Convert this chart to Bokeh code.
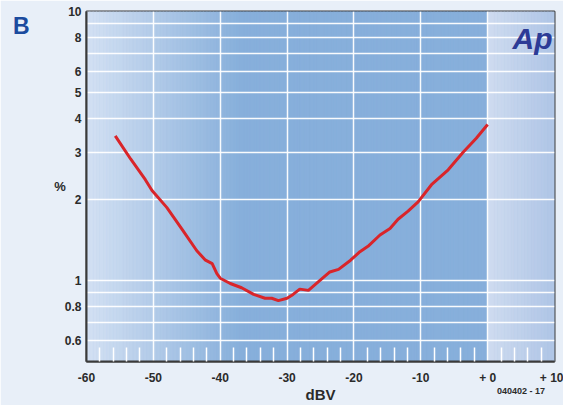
import numpy as np
from bokeh.plotting import figure
from bokeh.models import (Range1d, FixedTicker, Label, NumeralTickFormatter,
                          LinearAxis, LogAxis, CustomJSTickFormatter)
from bokeh.embed import file_html
from bokeh.resources import INLINE

# ---- data ----
db = [-55.7, -53.4, -51.2, -50.2, -48.0, -45.7, -43.5, -42.2, -41.2, -40.5, -40.0,
      -38.5, -36.8, -35.0, -33.3, -32.3, -31.3, -30.0, -29.1, -28.1, -26.8, -25.6,
      -23.6, -22.3, -20.5, -19.1, -17.9, -16.1, -14.6, -13.4, -11.9, -10.4, -8.4,
      -5.9, -3.7, -1.7, 0.0]
thd = [3.45, 2.83, 2.37, 2.16, 1.87, 1.55, 1.29, 1.19, 1.155, 1.06, 1.02,
       0.975, 0.94, 0.888, 0.859, 0.859, 0.842, 0.859, 0.888, 0.929, 0.919, 0.975,
       1.076, 1.10, 1.19, 1.28, 1.34, 1.476, 1.56, 1.69, 1.81, 1.96, 2.27,
       2.58, 2.99, 3.38, 3.8]

x_ticks = [-60, -50, -40, -30, -20, -10, 0, 10]
x_tick_labels = ["-60", "-50", "-40", "-30", "-20", "-10", "+ 0", "+ 10"]
x_grid = [-50, -40, -30, -20, -10, 0]
x_minor = [v for v in range(-58, 10, 2) if v % 10 != 0]
y_ticks = [0.6, 0.8, 1, 2, 3, 4, 5, 6, 8, 10]
y_grid = [0.6, 0.7, 0.8, 0.9, 1, 2, 3, 4, 5, 6, 7, 8, 9, 10]
panel_letter = "B"
figure_code = "040402 - 17"

BG = "#e8eff8"
TXT = "#2b2b2b"
FONT = "Liberation Sans"
W, H = 563, 405

p = figure(width=W, height=H, x_range=Range1d(-60, 10), y_range=Range1d(0.5, 10),
           y_axis_type="log", output_backend="svg", toolbar_location=None,
           min_border_left=86, min_border_right=9, min_border_top=11, min_border_bottom=42)
p.border_fill_color = BG
p.background_fill_color = "#87afdb"
p.outline_line_color = "#3a3a3a"
p.outline_line_width = 2

# ---- background gradient ----
def hx(c):
    return np.array([int(c[i:i + 2], 16) for i in (1, 3, 5)], dtype=float)

def mix(a, b, t):
    c = hx(a) * (1 - t) + hx(b) * t
    return "#%02x%02x%02x" % tuple(int(round(v)) for v in c)

step = 0.5
edges = np.arange(-60, 10, step)
cols = []
for l in edges:
    xm = l + step / 2
    if xm < -37:
        cols.append(mix("#d4e1f3", "#87afdb", (xm + 60) / 23.0))
    elif xm < 0:
        cols.append("#87afdb")
    else:
        cols.append(mix("#cfdcf0", "#afc5e6", xm / 10.0))
p.quad(left=edges, right=edges + step, bottom=0.5, top=10, fill_color=cols,
       line_color=cols, line_width=0.7, level="image")

# ---- grids ----
p.xgrid.ticker = FixedTicker(ticks=x_grid)
p.ygrid.ticker = FixedTicker(ticks=y_grid)
p.grid.grid_line_color = "white"
p.grid.grid_line_width = 1.5
p.grid.grid_line_alpha = 0.95

# ---- axes ----
p.xaxis.ticker = FixedTicker(ticks=x_ticks, minor_ticks=x_minor)
p.xaxis.major_label_overrides = dict(zip(x_ticks, x_tick_labels))
p.yaxis.ticker = FixedTicker(ticks=y_ticks, minor_ticks=[])
p.yaxis.formatter = NumeralTickFormatter(format="0.[0]")
for ax in (p.xaxis[0], p.yaxis[0]):
    ax.axis_line_color = "#3a3a3a"
    ax.axis_line_width = 2
    ax.major_tick_in = 0
    ax.major_tick_out = 0
    ax.major_label_text_font = FONT
    ax.major_label_text_font_style = "bold"
    ax.major_label_text_font_size = "12px"
    ax.major_label_text_color = TXT
    ax.axis_label_text_font = FONT
    ax.axis_label_text_font_style = "bold"
    ax.axis_label_text_color = TXT
p.yaxis.minor_tick_line_color = None
p.yaxis.major_label_standoff = 5
p.yaxis.axis_label = "%"
p.yaxis.axis_label_orientation = "horizontal"
p.yaxis.axis_label_text_font_size = "13px"
p.yaxis.axis_label_standoff = -4
p.xaxis.major_label_standoff = 9
p.xaxis.axis_label = "dBV"
p.xaxis.axis_label_text_font_size = "15px"
p.xaxis.axis_label_standoff = -2
p.xaxis.minor_tick_in = 14
p.xaxis.minor_tick_out = 0
p.xaxis.minor_tick_line_color = "white"
p.xaxis.minor_tick_line_width = 1.5

# panel letter, drawn as the only tick label of an extra left axis
b_axis = LogAxis(ticker=FixedTicker(ticks=[8.85], minor_ticks=[]),
                 formatter=CustomJSTickFormatter(code="return '%s'" % panel_letter),
                 axis_line_color=None, major_tick_line_color=None,
                 minor_tick_line_color=None, major_label_standoff=16,
                 major_label_text_font=FONT, major_label_text_font_style="bold",
                 major_label_text_font_size="23px", major_label_text_color="#1b4b9e")
p.add_layout(b_axis, "left")

# figure code, drawn as the only tick label of an extra bottom axis
c_axis = LinearAxis(ticker=FixedTicker(ticks=[5], minor_ticks=[]),
                    formatter=CustomJSTickFormatter(code="return '%s'" % figure_code),
                    axis_line_color=None, major_tick_line_color=None,
                    minor_tick_line_color=None, major_label_standoff=-26,
                    major_label_text_font=FONT, major_label_text_font_style="bold",
                    major_label_text_font_size="9px", major_label_text_color=TXT)
p.add_layout(c_axis, "below")

# ---- curve ----
p.line(db, thd, line_color="#d9252a", line_width=3)

# ---- logo ----
p.add_layout(Label(x=9.7, y=7.95, text="Ap", text_font=FONT, text_font_style="bold italic",
                   text_font_size="30px", text_color="#2c3b96", text_align="right",
                   text_baseline="alphabetic"))

open("out.html", "w").write(file_html(p, INLINE))
